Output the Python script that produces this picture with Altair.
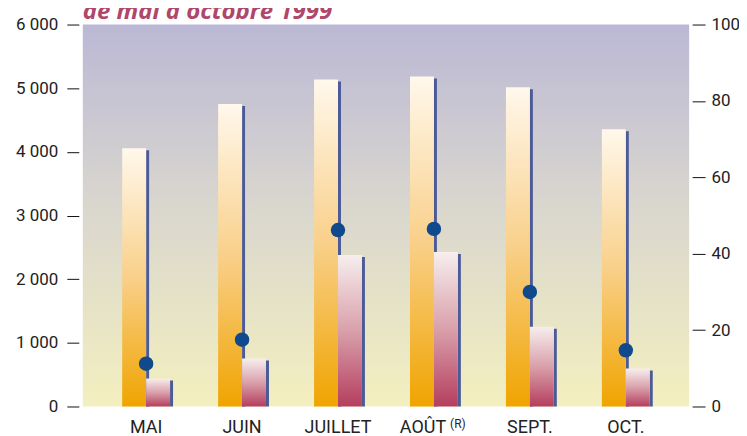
import altair as alt
import pandas as pd

months = ["MAI", "JUIN", "JUILLET", "AOÛT", "SEPT.", "OCT."]
totals = [4057, 4750, 5138, 5185, 5013, 4355]
others = [439, 752, 2381, 2428, 1253, 595]
pct = [11.2, 17.5, 46.2, 46.5, 30.0, 14.7]

df = pd.DataFrame({"month": months, "total": totals, "other": others, "pct": pct})

W, H = 608, 383
FONT = "Roboto"

xscale = alt.Scale(paddingInner=0, paddingOuter=0.16)
xaxis = alt.Axis(domain=False, ticks=False, tickSize=0, labelAngle=0,
                 labelFontSize=18, labelFont=FONT, labelColor="#222222",
                 labelPadding=12,
                 labelOffset={"condition": {"test": "datum.value == 'AOÛT'", "value": -11}, "value": 0})
yaxis = alt.Axis(values=[0, 1000, 2000, 3000, 4000, 5000, 6000], domain=False, grid=False,
                 tickColor="#111111", tickSize=12, offset=4, labelPadding=9,
                 labelFontSize=17, labelFont=FONT, labelColor="#222222",
                 labelExpr="replace(format(datum.value, ','), ',', ' ')")

xenc = alt.X("month:N", sort=months, title=None, scale=xscale, axis=xaxis)

yscale = alt.Scale(domain=[0, 6000], nice=False)
yscale_r = alt.Scale(domain=[0, 100], nice=False)


def grad(stops):
    return alt.LinearGradient(
        gradient="linear",
        stops=[alt.GradientStop(color=c, offset=o) for o, c in stops],
        x1=0, x2=0, y1=0, y2=1)


bg_grad = grad([(0, "#bbb8d5"), (0.45, "#d8d5cf"), (1, "#f3efbf")])
orange_grad = grad([(0, "#fff8ec"), (0.5, "#f9d08a"), (1, "#f0a400")])
pink_grad = grad([(0, "#f7eeee"), (0.5, "#d9a0aa"), (1, "#b53e5e")])
SHADOW = "#4b5b97"

bg = alt.Chart(pd.DataFrame({"a": [0]})).mark_rect(color=bg_grad).encode(
    x=alt.value(0), x2=alt.value(W), y=alt.value(0), y2=alt.value(H))

base = alt.Chart(df)

orange_shadow = base.mark_bar(color=SHADOW, width=3, xOffset=1.5, yOffset=2, clip=True).encode(
    x=xenc, y=alt.Y("total:Q", scale=yscale, title=None, axis=yaxis))

orange = base.mark_bar(color=orange_grad, width=24, xOffset=-12).encode(
    x=xenc, y=alt.Y("total:Q", scale=yscale, title=None, axis=yaxis))

pink_shadow = base.mark_bar(color=SHADOW, width=3, xOffset=25.5, yOffset=2, clip=True).encode(
    x=xenc, y=alt.Y("other:Q", scale=yscale, title=None, axis=yaxis))

pink = base.mark_bar(color=pink_grad, width=24, xOffset=12).encode(
    x=xenc, y=alt.Y("other:Q", scale=yscale, title=None, axis=yaxis))

dots = base.mark_circle(color="#114a8c", opacity=1, size=210).encode(
    x=xenc,
    y=alt.Y("pct:Q", scale=yscale_r, title=None,
            axis=alt.Axis(orient="right", values=[0, 20, 40, 60, 80, 100], domain=False, grid=False,
                          tickColor="#111111", tickSize=13, offset=3, labelPadding=6,
                          labelFontSize=17, labelFont=FONT, labelColor="#222222")))

reg = alt.Chart(pd.DataFrame({"month": ["AOÛT"], "t": ["(R)"]})).mark_text(
    fontSize=12, font=FONT, color="#222222", dx=24, align="center", baseline="middle").encode(
    x=xenc, y=alt.value(401), text="t:N")

title = alt.Chart(pd.DataFrame({"t": ["de mai à octobre 1999"]})).mark_text(
    fontSize=24, font="Open Sans", fontWeight="bold", fontStyle="italic", color="#b0466a",
    align="left", baseline="alphabetic").encode(
    x=alt.value(0), y=alt.value(-6), text="t:N")

left = alt.layer(bg, orange_shadow, orange, pink_shadow, pink, reg, title)
chart = alt.layer(left, dots).resolve_scale(y="independent").properties(
    width=W, height=H, autosize="none",
    padding={"left": 75, "top": 16, "right": 50, "bottom": 30},
).configure_view(stroke=None)

chart.save("out.html", embed_options={"renderer": "svg", "actions": False})
